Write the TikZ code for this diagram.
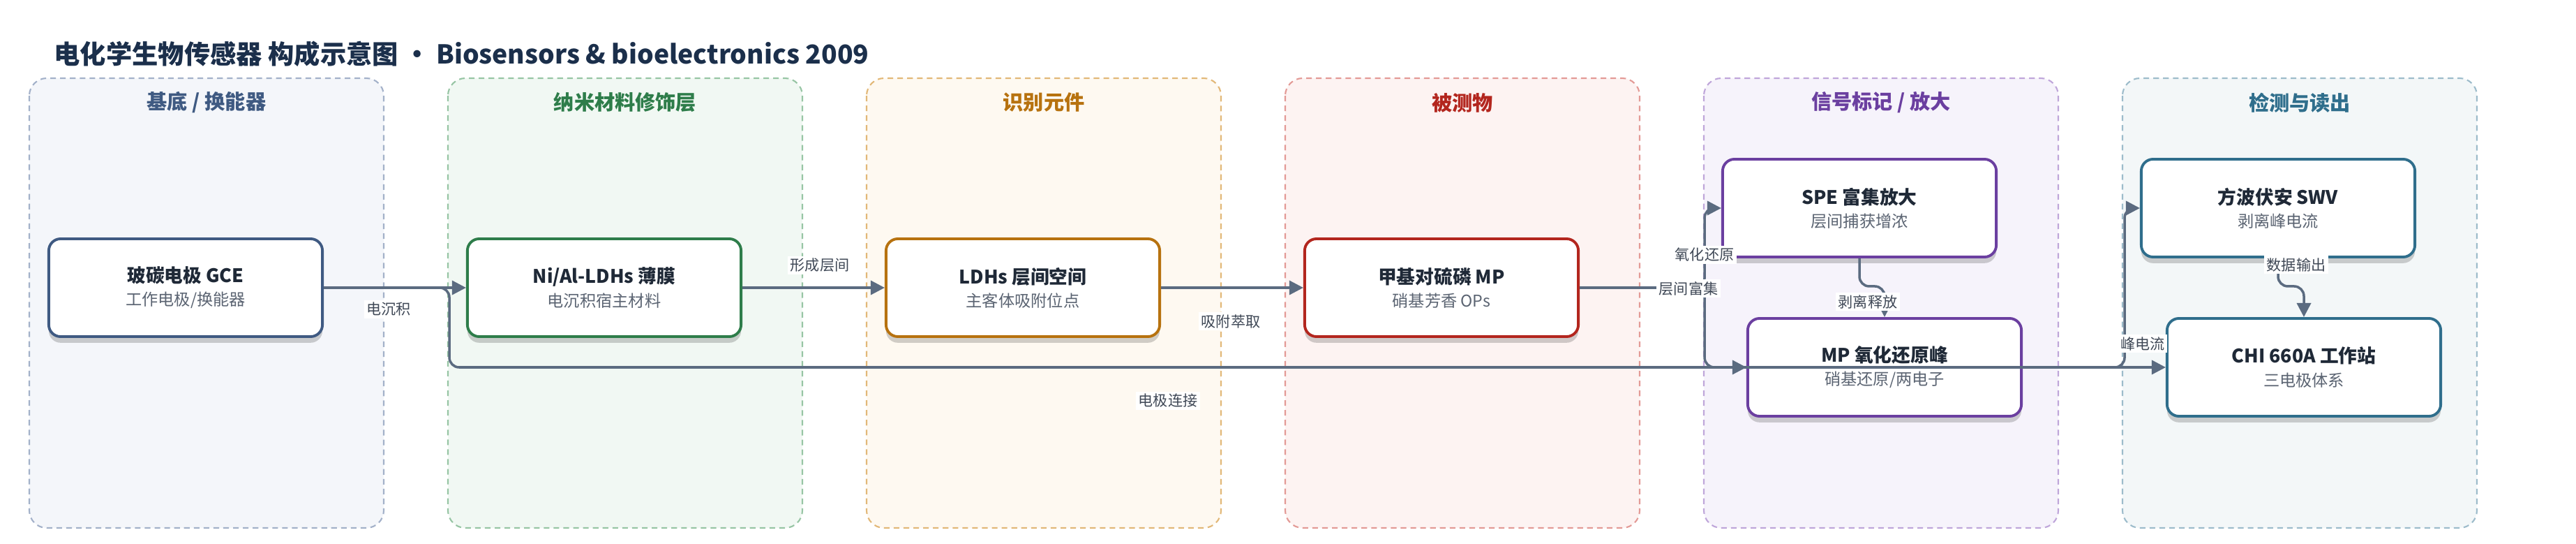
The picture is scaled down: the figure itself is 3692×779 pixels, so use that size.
\documentclass[tikz,border=0pt]{standalone}
\usepackage{fontspec}
\setmainfont{Noto Sans CJK SC}
\usetikzlibrary{arrows.meta,shadows}

\definecolor{titlenavy}{HTML}{1B2F4B}
\definecolor{inkdark}{HTML}{1F2937}
\definecolor{subgray}{HTML}{5B6472}
\definecolor{edgegray}{HTML}{5B6B80}
\definecolor{labelgray}{HTML}{3F4856}
\definecolor{slatefill}{HTML}{F4F6FA}
\definecolor{slateline}{HTML}{A3B1C9}
\definecolor{slatedark}{HTML}{3F5A82}
\definecolor{greenfill}{HTML}{F1F8F3}
\definecolor{greenline}{HTML}{97C5A4}
\definecolor{greendark}{HTML}{2E7D4A}
\definecolor{amberfill}{HTML}{FEF9F1}
\definecolor{amberline}{HTML}{E2B878}
\definecolor{amberdark}{HTML}{B7720F}
\definecolor{redfill}{HTML}{FDF3F2}
\definecolor{redline}{HTML}{E39A96}
\definecolor{reddark}{HTML}{B3261E}
\definecolor{violetfill}{HTML}{F6F3FB}
\definecolor{violetline}{HTML}{BFA6DA}
\definecolor{violetdark}{HTML}{6B3FA0}
\definecolor{tealfill}{HTML}{F3F7F8}
\definecolor{tealline}{HTML}{9DBCCB}
\definecolor{tealdark}{HTML}{2F6E8C}

\tikzstyle{lane}=[rounded corners=0.25cm,dash pattern=on 2.3pt off 1.7pt,line width=0.6pt]
\tikzstyle{lanetitle}=[font=\fontsize{8.3}{10}\selectfont\bfseries]
\tikzstyle{block}=[draw,fill=white,rounded corners=0.17cm,line width=1.1pt,minimum width=3.92cm,minimum height=1.4cm,align=center,inner sep=0pt,font=\fontsize{6.6}{9.4}\selectfont,drop shadow={shadow xshift=0pt,shadow yshift=-2.5pt,opacity=0.18,fill=black}]
\tikzstyle{flow}=[-{Triangle[length=5.7pt,width=5.7pt]},line width=1pt,draw=edgegray,rounded corners=0.14cm]
\tikzstyle{flowlabel}=[fill=white,inner sep=1pt,text=labelgray,font=\fontsize{6}{7}\selectfont]

\newcommand{\blocktext}[2]{{\fontsize{7.6}{9.4}\selectfont\bfseries\color{inkdark}#1}\\{\color{subgray}#2}}

\begin{document}
\begin{tikzpicture}[x=0.01cm,y=-0.01cm]
                  \useasboundingbox (0,0) rectangle (3692,779);

                  \node (title) at (77,77) [anchor=west,inner sep=0pt,text=titlenavy,font=\fontsize{10.6}{12}\selectfont\bfseries] {电化学生物传感器 构成示意图 · Biosensors \& bioelectronics 2009};

                  \draw [lane,draw=slateline,fill=slatefill] (42,112) rectangle (550,756);
                  \draw [lane,draw=greenline,fill=greenfill] (642,112) rectangle (1150,756);
                  \draw [lane,draw=amberline,fill=amberfill] (1242,112) rectangle (1750,756);
                  \draw [lane,draw=redline,fill=redfill] (1842,112) rectangle (2350,756);
                  \draw [lane,draw=violetline,fill=violetfill] (2442,112) rectangle (2950,756);
                  \draw [lane,draw=tealline,fill=tealfill] (3042,112) rectangle (3550,756);

                  \node (t1) at (296,147) [lanetitle,text=slatedark] {基底 / 换能器};
                  \node (t2) at (896,147) [lanetitle,text=greendark] {纳米材料修饰层};
                  \node (t3) at (1496,147) [lanetitle,text=amberdark] {识别元件};
                  \node (t4) at (2096,147) [lanetitle,text=reddark] {被测物};
                  \node (t5) at (2696,147) [lanetitle,text=violetdark] {信号标记 / 放大};
                  \node (t6) at (3296,147) [lanetitle,text=tealdark] {检测与读出};

                  \node (gce) at (266,412) [block,draw=slatedark] {\blocktext{玻碳电极 GCE}{工作电极/换能器}};
                  \node (nial) at (866,412) [block,draw=greendark] {\blocktext{Ni/Al-LDHs 薄膜}{电沉积宿主材料}};
                  \node (ldhs) at (1466,412) [block,draw=amberdark] {\blocktext{LDHs 层间空间}{主客体吸附位点}};
                  \node (mp) at (2066,412) [block,draw=reddark] {\blocktext{甲基对硫磷 MP}{硝基芳香 OPs}};
                  \node (spe) at (2665,298) [block,draw=violetdark] {\blocktext{SPE 富集放大}{层间捕获增浓}};
                  \node (peak) at (2701,526) [block,draw=violetdark] {\blocktext{MP 氧化还原峰}{硝基还原/两电子}};
                  \node (swv) at (3265,298) [block,draw=tealdark] {\blocktext{方波伏安 SWV}{剥离峰电流}};
                  \node (chi) at (3302,526) [block,draw=tealdark] {\blocktext{CHI 660A 工作站}{三电极体系}};

                  \draw [flow] (gce) -- (nial);
                  \draw [flow] (gce.east) -- ++(180,0) |- (chi.west);
                  \draw [flow] (nial) -- (ldhs);
                  \draw [flow] (ldhs) -- (mp);
                  \draw [flow] (mp.east) -- ++(179,0) |- (spe.west);
                  \draw [flow] (mp.east) -- ++(179,0) |- (peak.west);
                  \draw [flow] (spe.south) -- ++(0,40) -| (peak.north);
                  \draw [flow] (peak.east) -- ++(146,0) |- (swv.west);
                  \draw [flow] (swv.south) -- ++(0,40) -| (chi.north);

                  \node (l1) at (557,443) [flowlabel] {电沉积};
                  \node (l2) at (1674,574) [flowlabel] {电极连接};
                  \node (l3) at (1175,380) [flowlabel] {形成层间};
                  \node (l4) at (1764,460) [flowlabel] {吸附萃取};
                  \node (l5) at (2420,413) [flowlabel] {层间富集};
                  \node (l6) at (2443,365) [flowlabel] {氧化还原};
                  \node (l7) at (2677,432) [flowlabel] {剥离释放};
                  \node (l8) at (3071,492) [flowlabel] {峰电流};
                  \node (l9) at (3291,379) [flowlabel] {数据输出};
              \end{tikzpicture}
\end{document}
